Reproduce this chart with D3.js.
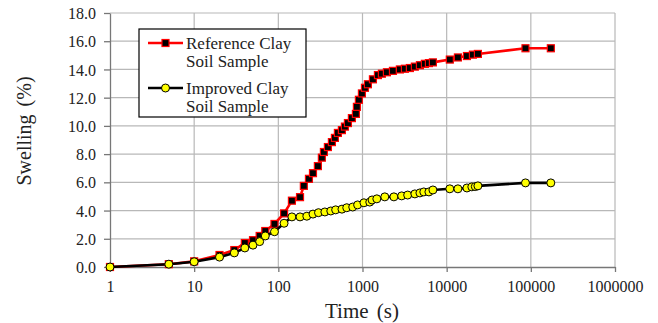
<!DOCTYPE html>
<html>
<head>
<script src="https://cdn.jsdelivr.net/npm/d3@7"></script>
<style>
  body { margin: 0; background: #fff; }
  svg text { font-family: "Liberation Serif", Tinos, "Times New Roman", serif !important; }
</style>
</head>
<body>
<script>
// time (s) and swelling (%)
var refTime = [1, 5, 10, 20, 30, 40, 50, 60, 70, 90, 117, 145, 181, 201, 231, 258, 295, 329, 348, 388, 433, 470, 510, 569, 618, 671, 748, 835, 858, 906, 984, 1069, 1159, 1330, 1525, 1700, 1950, 2300, 2780, 3190, 3655, 4190, 4810, 5510, 6150, 6860, 10900, 13600, 17400, 20500, 23500, 86400, 172800];
var refSwell = [0, 0.2, 0.4, 0.85, 1.2, 1.7, 1.9, 2.2, 2.55, 3.05, 3.8, 4.7, 4.95, 5.75, 6.25, 6.65, 7.15, 7.75, 8.15, 8.5, 8.85, 9.15, 9.5, 9.7, 9.95, 10.2, 10.55, 10.85, 11.35, 11.85, 12.3, 12.7, 12.95, 13.3, 13.6, 13.7, 13.8, 13.9, 14.0, 14.05, 14.1, 14.2, 14.3, 14.4, 14.45, 14.5, 14.7, 14.85, 14.95, 15.05, 15.1, 15.5, 15.5];

var impTime = [1, 5, 10, 20, 30, 40, 50, 60, 70, 90, 117, 145, 181, 218, 258, 300, 357, 420, 480, 570, 650, 765, 875, 1040, 1220, 1300, 1480, 1840, 2360, 2920, 3440, 4190, 4810, 5350, 6150, 6860, 10900, 13600, 17400, 19900, 21900, 23500, 86400, 172800];
var impSwell = [0, 0.2, 0.37, 0.7, 1.0, 1.35, 1.55, 1.8, 2.2, 2.5, 3.1, 3.55, 3.55, 3.6, 3.75, 3.85, 3.9, 3.97, 4.05, 4.1, 4.2, 4.25, 4.4, 4.55, 4.6, 4.75, 4.83, 4.97, 4.97, 5.04, 5.1, 5.18, 5.25, 5.32, 5.32, 5.46, 5.54, 5.54, 5.6, 5.68, 5.7, 5.75, 5.96, 5.96];

var xTicks = [1, 10, 100, 1000, 10000, 100000, 1000000];
var yTicks = [0, 2, 4, 6, 8, 10, 12, 14, 16, 18];
var legendLabels = [["Reference Clay", "Soil Sample"], ["Improved Clay", "Soil Sample"]];

var w = 658, h = 323;
var margin = {left: 110, right: 43, top: 13, bottom: 56};
var fontName = "'Liberation Serif'";

var svg = d3.select("body").append("svg")
  .attr("width", w)
  .attr("height", h);

var x = d3.scaleLog().domain([1, 1000000]).range([margin.left, w - margin.right]);
var y = d3.scaleLinear().domain([0, 18]).range([h - margin.bottom, margin.top]);

// grid
svg.append("g").selectAll("line.v")
  .data(xTicks.slice(1))
  .enter().append("line")
  .attr("x1", function(d) { return x(d); })
  .attr("x2", function(d) { return x(d); })
  .attr("y1", y(0)).attr("y2", y(18))
  .attr("stroke", "#b8b8b8").attr("stroke-width", 1.2);

svg.append("g").selectAll("line.h")
  .data(yTicks.slice(1))
  .enter().append("line")
  .attr("x1", x(1)).attr("x2", x(1000000))
  .attr("y1", function(d) { return y(d); })
  .attr("y2", function(d) { return y(d); })
  .attr("stroke", "#b8b8b8").attr("stroke-width", 1.2);

// axes
var xAxis = d3.axisBottom(x).tickValues(xTicks).tickFormat(d3.format("d")).tickSize(5).tickSizeOuter(0);
var yAxis = d3.axisLeft(y).tickValues(yTicks).tickFormat(d3.format(".1f")).tickSize(6).tickSizeOuter(0);

var gx = svg.append("g").attr("transform", "translate(0," + y(0) + ")").call(xAxis);
var gy = svg.append("g").attr("transform", "translate(" + x(1) + ",0)").call(yAxis);

[gx, gy].forEach(function(g) {
  g.attr("font-family", null).attr("font-size", null);
  g.selectAll("path, line").attr("stroke", "#777").attr("stroke-width", 1.3);
  g.selectAll("text")
    .style("font-family", fontName)
    .attr("font-size", 16)
    .attr("fill", "#222");
});
gx.selectAll("text").attr("dy", "1.05em");
gy.selectAll("text").attr("x", -14).attr("dy", "0.35em");

// axis titles
svg.append("text")
  .attr("x", 362).attr("y", 318)
  .attr("text-anchor", "middle")
  .style("font-family", fontName)
  .style("word-spacing", "3px")
  .attr("font-size", 21)
  .attr("fill", "#222")
  .text("Time (s)");

svg.append("text")
  .attr("transform", "translate(31," + 131 + ") rotate(-90)")
  .attr("text-anchor", "middle")
  .style("font-family", fontName)
  .style("word-spacing", "3px")
  .attr("font-size", 20)
  .attr("fill", "#222")
  .text("Swelling (%)");

// series
var refData = refTime.map(function(t, i) { return [t, refSwell[i]]; });
var impData = impTime.map(function(t, i) { return [t, impSwell[i]]; });

var line = d3.line()
  .x(function(d) { return x(d[0]); })
  .y(function(d) { return y(d[1]); });

svg.append("path").datum(refData)
  .attr("d", line)
  .attr("fill", "none")
  .attr("stroke", "#ff0000")
  .attr("stroke-width", 2.6);

svg.append("g").selectAll("rect")
  .data(refData)
  .enter().append("rect")
  .attr("x", function(d) { return x(d[0]) - 3.5; })
  .attr("y", function(d) { return y(d[1]) - 3.5; })
  .attr("width", 7).attr("height", 7)
  .attr("fill", "#000")
  .attr("stroke", "#ff0000")
  .attr("stroke-width", 1.2);

svg.append("path").datum(impData)
  .attr("d", line)
  .attr("fill", "none")
  .attr("stroke", "#000")
  .attr("stroke-width", 2.6);

svg.append("g").selectAll("circle")
  .data(impData)
  .enter().append("circle")
  .attr("cx", function(d) { return x(d[0]); })
  .attr("cy", function(d) { return y(d[1]); })
  .attr("r", 4)
  .attr("fill", "#ffff00")
  .attr("stroke", "#000")
  .attr("stroke-width", 1);

// legend
var lg = svg.append("g");
lg.append("rect")
  .attr("x", 139).attr("y", 29).attr("width", 167).attr("height", 88)
  .attr("fill", "#fff").attr("stroke", "#000").attr("stroke-width", 1.2);

var entries = [
  {cy: 43, stroke: "#ff0000", shape: "rect"},
  {cy: 88, stroke: "#000", shape: "circle"}
];

entries.forEach(function(e, i) {
  lg.append("line")
    .attr("x1", 148).attr("x2", 183)
    .attr("y1", e.cy).attr("y2", e.cy)
    .attr("stroke", e.stroke).attr("stroke-width", 2.6);
  if (e.shape === "rect") {
    lg.append("rect")
      .attr("x", 162).attr("y", e.cy - 3.5).attr("width", 7).attr("height", 7)
      .attr("fill", "#000").attr("stroke", "#ff0000").attr("stroke-width", 1.2);
  } else {
    lg.append("circle")
      .attr("cx", 165.5).attr("cy", e.cy).attr("r", 4)
      .attr("fill", "#ffff00").attr("stroke", "#000").attr("stroke-width", 1);
  }
  legendLabels[i].forEach(function(s, j) {
    lg.append("text")
      .attr("x", 186).attr("y", e.cy + 6 + j * 18)
      .style("font-family", fontName)
      .attr("font-size", 17)
      .attr("fill", "#222")
      .text(s);
  });
});
</script>
</body>
</html>
